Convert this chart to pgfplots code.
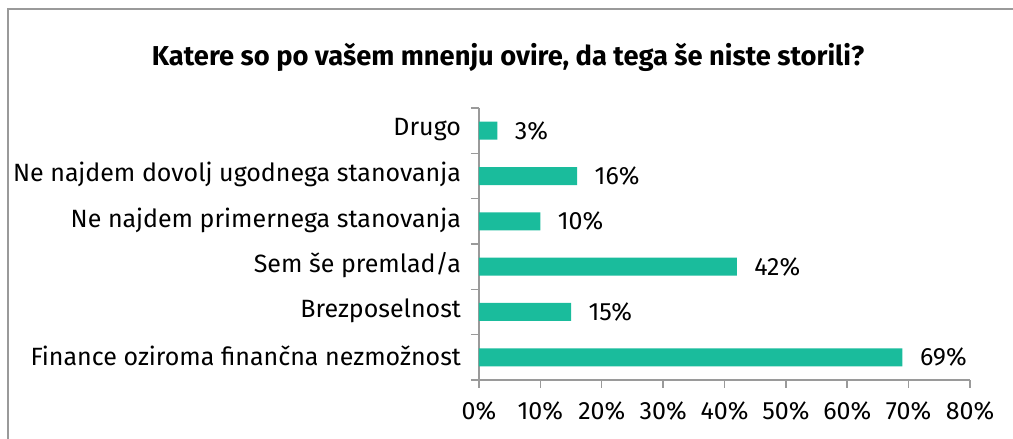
\documentclass[border=0pt]{standalone}
\usepackage{pgfplots}
\pgfplotsset{compat=1.18}
\usepackage{fontspec}
\setmainfont{Fira Sans}
\definecolor{barc}{HTML}{1ABC9C}
\definecolor{axc}{HTML}{9A9A9A}
\begin{document}
\begin{tikzpicture}[x=1pt,y=1pt]
\useasboundingbox (0,0) rectangle (1013,439);
\draw[axc, line width=2pt] (8,0) -- (8,430) -- (1013,430);
\node[font=\fontsize{27.3}{32}\selectfont\bfseries] at (508,382) {Katere so po vašem mnenju ovire, da tega še niste storili?};
\begin{axis}[
  at={(479pt,59pt)}, anchor=south west,
  scale only axis, width=491pt, height=272pt,
  xmin=0, xmax=80, ymin=-0.5, ymax=5.5,
  axis x line*=bottom, axis y line*=left,
  axis line style={axc, line width=1.5pt},
  tick style={axc, line width=1.5pt},
  major tick length=8pt, tick align=outside,
  /pgf/number format/assume math mode=true,
  xtick={0,10,...,80},
  xticklabel={\pgfmathprintnumber{\tick}\%},
  xticklabel style={font=\fontsize{25}{30}\selectfont, yshift=-10pt},
  ytick={-0.5,0.5,...,5.5},
  yticklabels={{},Finance oziroma finančna nezmožnost,Brezposelnost,Sem še premlad/a,Ne najdem primernega stanovanja\ ,Ne najdem dovolj ugodnega stanovanja,Drugo},
  yticklabel style={font=\fontsize{25}{30}\selectfont, yshift=-21.5pt, xshift=-6.5pt},
  xbar, bar width=18pt,
  nodes near coords={\pgfmathprintnumber{\pgfplotspointmeta}\%},
  nodes near coords style={anchor=west, xshift=14pt, font=\fontsize{25}{30}\selectfont, black},
  clip=false,
]
\addplot[fill=barc, draw=none] coordinates {(69,0) (15,1) (42,2) (10,3) (16,4) (3,5)};
\end{axis}
\end{tikzpicture}
\end{document}
